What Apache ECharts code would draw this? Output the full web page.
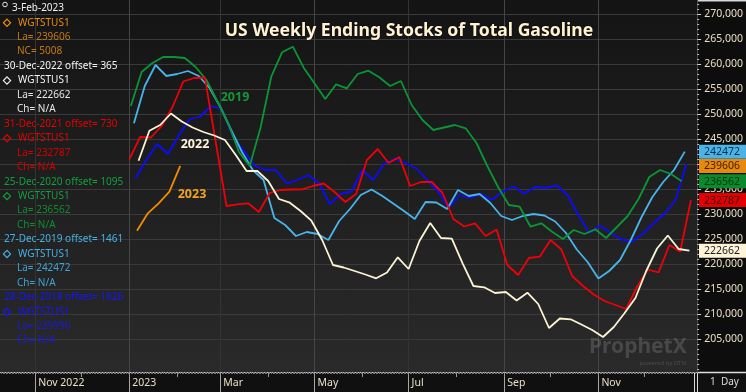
<!DOCTYPE html>
<html><head><meta charset="utf-8">
<script src="https://cdn.jsdelivr.net/npm/echarts@6/dist/echarts.min.js"></script>
<style>html,body{margin:0;padding:0;background:#0e0e0e;}#c{width:746px;height:392px;}</style>
</head><body><div id="c"></div>
<script>
const DAY = 86400000;
function ts(s){const p=s.split('-').map(Number);return Date.UTC(p[0],p[1]-1,p[2]);}

// ---- axis ticks / labels ----
const xTickDates  = ['2022-11-01','2023-01-01','2023-03-01','2023-05-01','2023-07-01','2023-09-01','2023-11-01'];
const xTickLabels = ['Nov 2022','2023','Mar','May','Jul','Sep','Nov'];
const xStrongGridDates = ['2023-01-01','2023-05-01','2023-09-01','2023-11-01'];
const yTickValues = [205000,210000,215000,220000,225000,230000,235000,240000,245000,250000,255000,260000,265000,270000];

// ---- series: first-week date of original year, offset in days, weekly values ----
const s2023Start = '2023-01-06', s2023Offset = 0;
const s2023Values = [226660, 230140, 232140, 234460, 239606];

const s2022Start = '2022-01-07', s2022Offset = 365;
const s2022Values = [240660,246660,247800,250100,248500,247300,246400,245700,244800,241800,
  238600,238600,236600,233000,232260,230600,228660,224800,219800,219300,
  218600,217900,217140,218300,221340,219000,224600,228200,225200,225060,
  220140,215600,215340,214200,214400,212700,214260,212000,207200,209100,
  208940,207900,206800,205400,207400,210200,213200,218600,223100,225700,
  223000,222662];

const s2021Start = '2021-01-01', s2021Offset = 730;
const s2021Values = [240940,245400,245300,247600,251400,256500,257200,257260,244400,231600,
  231940,232140,230400,234200,234800,234900,234940,235600,236100,234400,
  232400,234000,240800,243000,240200,241400,235600,236400,236400,234200,
  229000,227500,228140,225600,226900,219800,217800,221200,221460,224800,
  222900,217600,215600,213900,212600,211800,211000,215400,218900,218300,
  223800,222500,232787];

const s2020Start = '2020-01-03', s2020Offset = 1095;
const s2020Values = [251600,258400,260200,261400,261400,261200,259400,256800,252600,248200,
  242400,239600,247200,257460,262340,263460,259260,256140,253000,255940,
  255140,258000,258660,257340,255600,256600,251800,248800,246800,247300,
  247800,247140,244200,239600,235400,231800,231460,227460,228140,226460,
  225000,226800,226000,226940,225200,227400,229600,233000,237400,238800,
  238000,236562];

const s2019Start = '2019-01-04', s2019Offset = 1461;
const s2019Values = [248140,255600,259800,257600,258000,258600,257600,255200,251400,246800,
  242400,238800,236800,229200,227800,225600,226400,226000,224800,228600,
  231000,233800,234900,233600,232100,230600,229000,232400,232300,231000,
  234800,233600,234000,232200,229600,228800,229600,230000,229700,228500,
  226200,222900,220400,217100,218600,220800,224800,229400,233400,236400,
  238800,242472];

const s2018Start = '2018-01-05', s2018Offset = 1826;
const s2018Values = [237140,240800,244000,242000,245700,248900,249500,251600,251000,245600,
  242700,239700,238800,238800,236140,236800,237800,236100,232000,234000,
  234500,238800,236800,240000,241000,240200,239100,236800,234600,231200,
  233800,233200,234000,232800,234500,235500,234100,235400,235200,235700,
  233800,229800,226200,227700,226200,224900,224500,226100,228200,230100,
  232800,239996];

const legendHeaders = ['3-Feb-2023','30-Dec-2022 offset= 365','31-Dec-2021 offset= 730','25-Dec-2020 offset= 1095','27-Dec-2019 offset= 1461','28-Dec-2018 offset= 1826'];
const legendLastLines = ['NC= 5008','Ch= N/A','Ch= N/A','Ch= N/A','Ch= N/A','Ch= N/A'];
const seriesCode = 'WGTSTUS1';
const annotationTexts = ['2019','2022','2023'];
const titleText = 'US Weekly Ending Stocks of Total Gasoline';

function build(start, offset, values){
  const t0 = ts(start) + offset*DAY;
  return values.map((v,i)=>[t0 + i*7*DAY, v]);
}

const defs = [
  {values:s2018Values, start:s2018Start, off:s2018Offset, color:'#0b0bff', head:'#1616ff', dim:'#1a1ad8', box:null},
  {values:s2019Values, start:s2019Start, off:s2019Offset, color:'#48b4ea', head:'#45b2e6', dim:'#3fa3d4', box:{bg:'#4ab4e8', fg:'#0c2a44'}},
  {values:s2020Values, start:s2020Start, off:s2020Offset, color:'#0a9636', head:'#12a040', dim:'#0c8e34', box:{bg:'#0a8a2c', fg:'#05300f'}},
  {values:s2021Values, start:s2021Start, off:s2021Offset, color:'#f00008', head:'#e80000', dim:'#d40000', box:{bg:'#e40000', fg:'#3c0000'}},
  {values:s2022Values, start:s2022Start, off:s2022Offset, color:'#fbf3d4', head:'#f4f4f4', dim:'#e6e6e6', box:{bg:'#fff4d8', fg:'#1c1c1c'}},
  {values:s2023Values, start:s2023Start, off:s2023Offset, color:'#f28c00', head:'#ec8c10', dim:'#c47814', box:{bg:'#e8890c', fg:'#3a1c00'}}
];

const jan1 = ts('2023-01-01');
const xMin = jan1 - 83.8*DAY;
const xMax = jan1 + 368*DAY;
const yMin = 198400, yMax = 272800;

const xTickTs = xTickDates.map(ts);
const xStrongTs = xStrongGridDates.map(ts);
const dailyTicks = []; for(let t=ts('2022-10-10'); t<xMax; t+=DAY) dailyTicks.push(t);
const monthTicks = []; for(let k=0;k<15;k++){ monthTicks.push(Date.UTC(2022, 9+k, 1)); }
const yMinor = []; for(let v=199000; v<=272000; v+=1000) if(v%5000 || v===200000) yMinor.push(v);

const chart = echarts.init(document.getElementById('c'), null, {renderer:'canvas'});
const FONT = '"Noto Sans", "Open Sans", sans-serif';

const xBase = {type:'value', min:xMin, max:xMax, position:'bottom', gridIndex:0, scale:true};
chart.setOption({
  animation:false,
  backgroundColor:'#0e0e0e',
  grid:{left:0, right:48, top:0, bottom:20, containLabel:false},
  xAxis:[
    Object.assign({}, xBase, {
      axisLine:{show:true, lineStyle:{color:'#c4c4c4', width:1}},
      axisTick:{show:true, customValues:xTickTs, length:20, lineStyle:{color:'#a8a8a8'}},
      axisLabel:{show:true, customValues:xTickTs, align:'left', margin:6, padding:[0,0,0,3],
        color:'#e8dec4', fontSize:10.5, fontFamily:FONT,
        formatter:(v)=>{const i=xTickTs.indexOf(v); return i>=0?xTickLabels[i]:'';}},
      splitLine:{show:true, lineStyle:{color:'#343434', width:1}}
    }),
    Object.assign({}, xBase, {
      axisLine:{show:false}, axisLabel:{show:false},
      axisTick:{show:false, customValues:xStrongTs},
      splitLine:{show:true, lineStyle:{color:'#464646', width:1}}
    }),
    Object.assign({}, xBase, {
      axisLine:{show:false}, axisLabel:{show:false}, splitLine:{show:false},
      axisTick:{show:true, inside:false, customValues:dailyTicks, length:2, lineStyle:{color:'#7a7a7a'}}
    }),
    Object.assign({}, xBase, {
      axisLine:{show:false}, axisLabel:{show:false}, splitLine:{show:false},
      axisTick:{show:true, customValues:monthTicks, length:5, lineStyle:{color:'#9a9a9a'}}
    })
  ],
  yAxis:[
    {type:'value', position:'right', min:yMin, max:yMax, gridIndex:0,
      axisLine:{show:true, lineStyle:{color:'#4a4a4a'}},
      axisTick:{show:true, customValues:yTickValues, length:4, lineStyle:{color:'#cfcfcf'}},
      axisLabel:{show:true, customValues:yTickValues, margin:7, color:'#e8dec4', fontSize:10.5, fontFamily:FONT},
      splitLine:{show:true, lineStyle:{color:'#3a3a3a'}}},
    {type:'value', position:'right', min:yMin, max:yMax, gridIndex:0,
      axisLine:{show:false}, axisLabel:{show:false}, splitLine:{show:false},
      axisTick:{show:true, customValues:yMinor, length:2, lineStyle:{color:'#bdbdbd'}}}
  ],
  series: defs.map((d,i)=>({
    type:'line', xAxisIndex:0, yAxisIndex:0, showSymbol:false, symbol:'none', silent:true,
    z: 2+i, lineStyle:{color:d.color, width:1.8}, data: build(d.start, d.off, d.values)
  }))
});

// ---- graphic overlay (text, bands, value boxes) ----
const g = [];
g.push({type:'rect', z:-100, silent:true, shape:{x:0,y:0,width:698,height:372},
  style:{fill:new echarts.graphic.LinearGradient(0,0,0,1,[{offset:0,color:'#141414'},{offset:1,color:'#2a2a2a'}])}});
g.push({type:'rect', z:-90, silent:true, shape:{x:698,y:0,width:48,height:372}, style:{fill:'#0d0d0d'}});
g.push({type:'rect', z:-90, silent:true, shape:{x:0,y:372,width:746,height:20}, style:{fill:'#101010'}});
g.push({type:'rect', z:50, silent:true, shape:{x:698,y:0,width:48,height:1.5}, style:{fill:'#d8d8d8'}});
g.push({type:'line', z:50, silent:true, shape:{x1:698,y1:372.5,x2:746,y2:372.5}, style:{stroke:'#e0e0e0', lineWidth:1.5}});
g.push({type:'line', z:50, silent:true, shape:{x1:694.5,y1:373,x2:694.5,y2:392}, style:{stroke:'#dcdcdc', lineWidth:1}});
g.push({type:'line', z:50, silent:true, shape:{x1:697.5,y1:373,x2:697.5,y2:392}, style:{stroke:'#dcdcdc', lineWidth:1}});
g.push({type:'text', z:50, silent:true, style:{text:'1  Day', x:710, y:382, fill:'#dcdcdc', fontSize:10, fontFamily:FONT, verticalAlign:'middle'}});

g.push({type:'text', z:60, silent:true, style:{text:titleText, x:409, y:31, align:'center', verticalAlign:'middle',
  fill:'#fff3d2', fontSize:17.6, fontWeight:'bold', fontFamily:FONT, textShadowColor:'rgba(0,0,0,0.9)', textShadowBlur:2}});

const annot = [
  {t:annotationTexts[0], x:235, y:97, c:'#14963a'},
  {t:annotationTexts[1], x:195, y:144, c:'#fff5dc'},
  {t:annotationTexts[2], x:192, y:194, c:'#f2a41e'}
];
annot.forEach(a=>g.push({type:'text', z:60, silent:true, style:{text:a.t, x:a.x, y:a.y, align:'center', verticalAlign:'middle', fill:a.c, fontSize:12.5, fontWeight:'bold', fontFamily:FONT}}));

g.push({type:'text', z:1, silent:true, style:{text:'ProphetX', x:589, y:347, verticalAlign:'middle', fill:'rgba(110,110,110,0.45)', fontSize:21, fontWeight:'bold', fontFamily:FONT}});
g.push({type:'text', z:1, silent:true, style:{text:'powered by DTN', x:686, y:363, align:'right', verticalAlign:'middle', fill:'rgba(110,110,110,0.5)', fontSize:6, fontFamily:FONT}});

const legendOrder = [5,4,3,2,1,0];
const step = 14.45, y0 = 8.3;
g.push({type:'circle', z:60, silent:true, shape:{cx:5,cy:4.5,r:2.3}, style:{fill:'none', stroke:'#e8e8e8', lineWidth:1}});
legendOrder.forEach((di,k)=>{
  const d = defs[di];
  const base = y0 + k*4*step;
  const headColor = (k===0)?'#f0f0f0':d.head;
  g.push({type:'text', z:60, silent:true, style:{text:legendHeaders[k], x:(k===0?12:4), y:base, verticalAlign:'middle', fill:headColor, fontSize:10, fontFamily:FONT}});
  const yd = base+step;
  g.push({type:'polygon', z:60, silent:true, shape:{points:[[7,yd-3.6],[10.6,yd],[7,yd+3.6],[3.4,yd]]}, style:{fill:'none', stroke:d.head, lineWidth:1.2}});
  g.push({type:'text', z:60, silent:true, style:{text:seriesCode, x:18, y:yd, verticalAlign:'middle', fill:d.head, fontSize:10, fontFamily:FONT}});
  const last = d.values[d.values.length-1];
  g.push({type:'text', z:60, silent:true, style:{text:'La= '+last, x:17, y:base+2*step, verticalAlign:'middle', fill:d.dim, fontSize:10, fontFamily:FONT}});
  g.push({type:'text', z:60, silent:true, style:{text:legendLastLines[k], x:17, y:base+3*step, verticalAlign:'middle', fill:d.dim, fontSize:10, fontFamily:FONT}});
});

defs.forEach(d=>{
  if(!d.box) return;
  const last = d.values[d.values.length-1];
  const py = chart.convertToPixel({yAxisIndex:0}, last);
  g.push({type:'rect', z:70, silent:true, shape:{x:699,y:py-7,width:47,height:14}, style:{fill:d.box.bg}});
  g.push({type:'text', z:71, silent:true, style:{text:String(last), x:704, y:py+0.5, verticalAlign:'middle', fill:d.box.fg, fontSize:10.5, fontFamily:FONT}});
});

chart.setOption({graphic:{elements:g}});
</script>
</body></html>
